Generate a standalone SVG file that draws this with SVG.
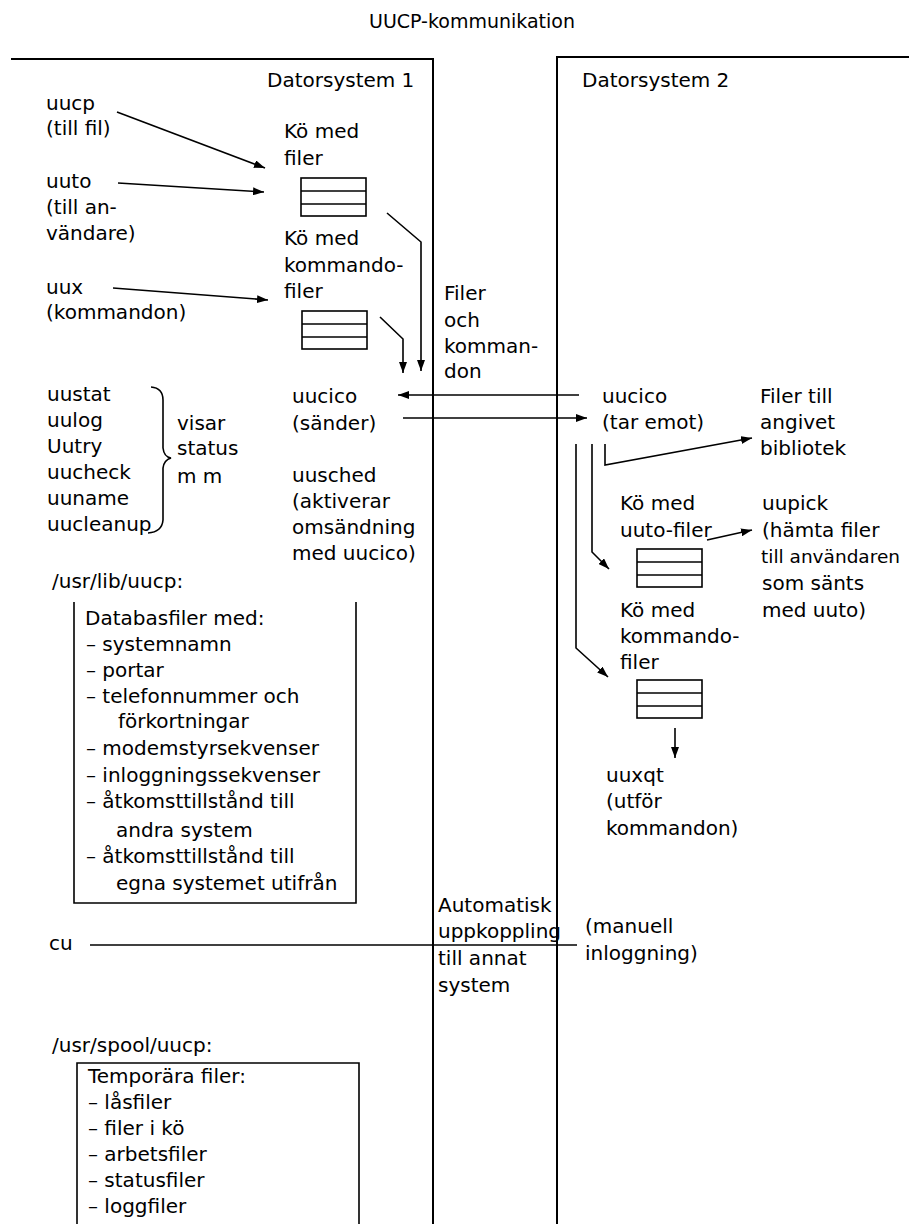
<svg xmlns="http://www.w3.org/2000/svg" width="909" height="1224" viewBox="0 0 909 1224">
<style>
text{font-family:"DejaVu Sans","Liberation Sans",sans-serif;font-size:20px;fill:#000}
.frame{fill:none;stroke:#000;stroke-width:2}
.ln{fill:none;stroke:#000;stroke-width:1.6}
.q{fill:#fff;stroke:#000;stroke-width:1.6}
</style>
<defs>
<marker id="ah" markerUnits="userSpaceOnUse" markerWidth="12" markerHeight="8" refX="11" refY="4" orient="auto">
<path d="M0,0 L11,4 L0,8 z" fill="#000"/>
</marker>
<g id="queue"><rect class="q" x="0" y="0" width="65" height="38"/><line class="ln" x1="0" y1="13" x2="65" y2="13"/><line class="ln" x1="0" y1="26" x2="65" y2="26"/></g>
</defs>
<rect width="909" height="1224" fill="#fff"/>
<g id="title"><text x="472" y="28" text-anchor="middle" style="font-size:19px">UUCP-kommunikation</text></g>
<g id="system1"><path class="frame" d="M11,59 L433,59 L433,1224"/><text x="267" y="87">Datorsystem 1</text></g>
<g id="system2"><path class="frame" d="M557,1224 L557,57 L909,57"/><text x="582" y="87">Datorsystem 2</text></g>
<g id="uucp"><text x="46" y="110">uucp</text><text x="46" y="135">(till fil)</text></g>
<g id="uuto"><text x="46" y="188">uuto</text><text x="46" y="214">(till an-</text><text x="46" y="240">vändare)</text></g>
<g id="uux"><text x="46" y="294">uux</text><text x="46" y="319">(kommandon)</text></g>
<g id="queue1"><text x="284" y="138">Kö med</text><text x="284" y="165">filer</text><use href="#queue" x="301" y="178"/></g>
<g id="queue2"><text x="284" y="245">Kö med</text><text x="284" y="272">kommando-</text><text x="284" y="298">filer</text><use href="#queue" x="302" y="311"/></g>
<g id="filer-och-kommandon"><text x="444" y="300">Filer</text><text x="444" y="327">och</text><text x="444" y="353">komman-</text><text x="444" y="378">don</text></g>
<g id="status-tools"><text x="47" y="401">uustat</text><text x="47" y="427">uulog</text><text x="47" y="453">Uutry</text><text x="47" y="479">uucheck</text><text x="47" y="505">uuname</text><text x="47" y="531">uucleanup</text>
<path class="ln" d="M151,387 Q163,388 163,400 L163,448 Q164,457 171,458 Q164,460 163,468 L163,520 Q162,532 148,533"/>
<text x="177" y="430">visar</text><text x="177" y="455">status</text><text x="177" y="483">m m</text></g>
<g id="uucico1"><text x="292" y="403">uucico</text><text x="292" y="430">(sänder)</text></g>
<g id="uusched"><text x="292" y="482">uusched</text><text x="292" y="508">(aktiverar</text><text x="292" y="534">omsändning</text><text x="292" y="560">med uucico)</text></g>
<g id="usr-lib-uucp"><text x="52" y="588">/usr/lib/uucp:</text>
<path class="ln" d="M74,602 L74,903 L356,903 L356,602"/>
<text x="85" y="625">Databasfiler med:</text>
<text x="86" y="651">– systemnamn</text>
<text x="86" y="677">– portar</text>
<text x="86" y="703">– telefonnummer och</text>
<text x="118" y="728">förkortningar</text>
<text x="86" y="755">– modemstyrsekvenser</text>
<text x="86" y="782">– inloggningssekvenser</text>
<text x="86" y="808">– åtkomsttillstånd till</text>
<text x="116" y="837">andra system</text>
<text x="86" y="863">– åtkomsttillstånd till</text>
<text x="116" y="890">egna systemet utifrån</text></g>
<g id="cu"><text x="49" y="950">cu</text></g>
<g id="automatisk"><text x="438" y="912">Automatisk</text><text x="438" y="938">uppkoppling</text><text x="438" y="965">till annat</text><text x="438" y="992">system</text></g>
<g id="manuell"><text x="585" y="933">(manuell</text><text x="585" y="960">inloggning)</text></g>
<g id="usr-spool-uucp"><text x="52" y="1052">/usr/spool/uucp:</text>
<path class="ln" d="M77,1224 L77,1063 L359,1063 L359,1224"/>
<text x="88" y="1083">Temporära filer:</text>
<text x="88" y="1109">– låsfiler</text>
<text x="88" y="1135">– filer i kö</text>
<text x="88" y="1161">– arbetsfiler</text>
<text x="88" y="1187">– statusfiler</text>
<text x="88" y="1213">– loggfiler</text></g>
<g id="uucico2"><text x="602" y="403">uucico</text><text x="602" y="429">(tar emot)</text></g>
<g id="filer-till"><text x="760" y="403">Filer till</text><text x="760" y="429">angivet</text><text x="760" y="455">bibliotek</text></g>
<g id="queue3"><text x="620" y="510">Kö med</text><text x="620" y="537">uuto-filer</text><use href="#queue" x="637" y="549"/></g>
<g id="uupick"><text x="762" y="510">uupick</text><text x="762" y="537">(hämta filer</text><text x="761" y="563" style="font-size:18.5px">till användaren</text><text x="762" y="590">som sänts</text><text x="762" y="617">med uuto)</text></g>
<g id="queue4"><text x="620" y="617">Kö med</text><text x="620" y="643">kommando-</text><text x="620" y="669">filer</text><use href="#queue" x="637" y="680"/></g>
<g id="uuxqt"><text x="606" y="782">uuxqt</text><text x="606" y="808">(utför</text><text x="606" y="835">kommandon)</text></g>
<g id="connectors">
<line class="ln" x1="117" y1="112" x2="265" y2="168" marker-end="url(#ah)"/>
<line class="ln" x1="118" y1="183" x2="264" y2="192" marker-end="url(#ah)"/>
<line class="ln" x1="113" y1="288" x2="268" y2="300" marker-end="url(#ah)"/>
<polyline class="ln" points="387,213 421,242 421,371" marker-end="url(#ah)"/>
<polyline class="ln" points="380,317 403,339 403,373" marker-end="url(#ah)"/>
<line class="ln" x1="579" y1="395" x2="398" y2="395" marker-end="url(#ah)"/>
<line class="ln" x1="403" y1="418" x2="587" y2="418" marker-end="url(#ah)"/>
<polyline class="ln" points="605,444 605,465 752,438" marker-end="url(#ah)"/>
<polyline class="ln" points="592,444 592,552 609,569" marker-end="url(#ah)"/>
<polyline class="ln" points="576,444 576,648 608,677" marker-end="url(#ah)"/>
<line class="ln" x1="707" y1="540" x2="752" y2="530" marker-end="url(#ah)"/>
<line class="ln" x1="675" y1="728" x2="675" y2="758" marker-end="url(#ah)"/>
<line class="ln" x1="90" y1="945" x2="577" y2="945"/>
</g>
</svg>
